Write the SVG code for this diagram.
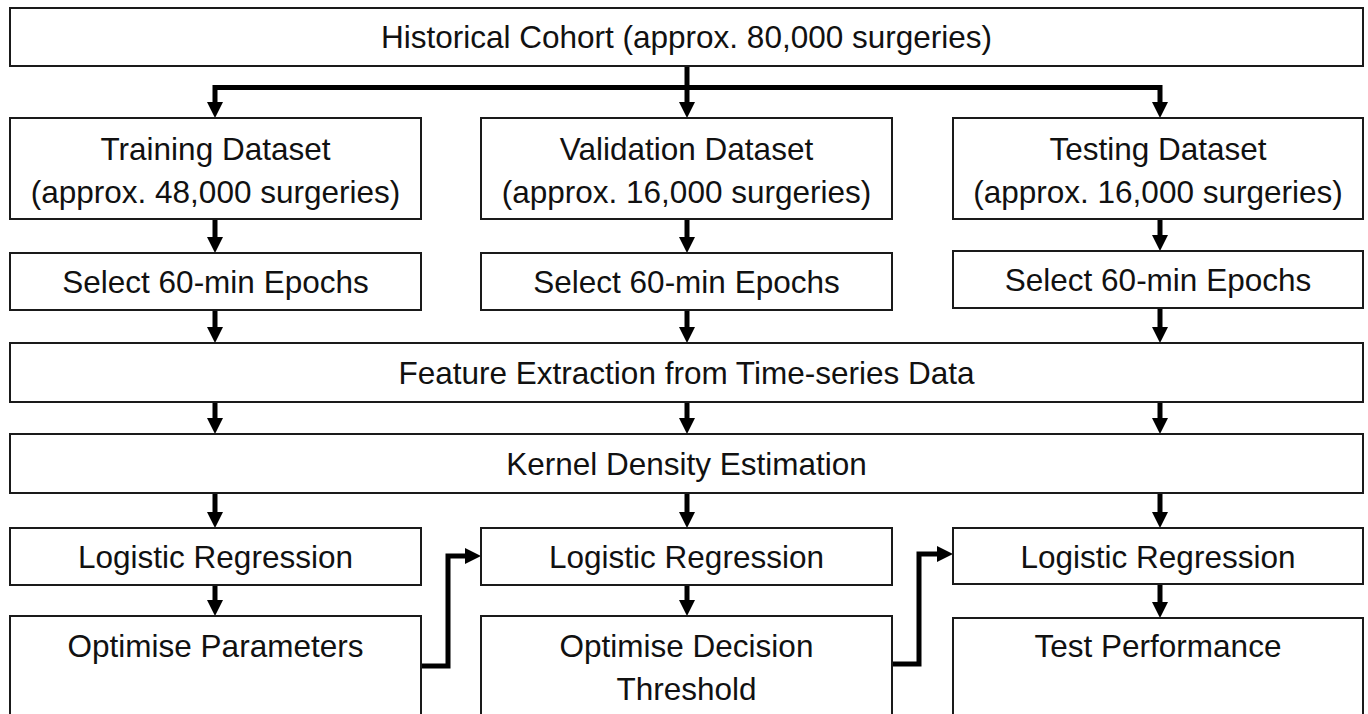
<svg xmlns="http://www.w3.org/2000/svg" width="1368" height="714" viewBox="0 0 1368 714">
<style>
.box{fill:#fff;stroke:#1a1a1a;stroke-width:2}
.t{font-family:"Liberation Sans",Arial,sans-serif;font-size:31.5px;fill:#111;text-anchor:middle}
.c{fill:none;stroke:#000;stroke-width:5;stroke-linejoin:miter;marker-end:url(#ah)}
</style>
<defs>
<marker id="ah" markerUnits="userSpaceOnUse" markerWidth="16" markerHeight="16" refX="4" refY="8" orient="auto" viewBox="0 0 16 16">
<path d="M0,0 L16,8 L0,16 Z" fill="#000"/>
</marker>
</defs>
<rect width="1368" height="714" fill="#fff"/>
<g id="connectors">
<path class="c" d="M687,66 V106"/>
<path class="c" d="M689,87.5 H215 V106"/>
<path class="c" d="M685,87.5 H1160 V106"/>
<path class="c" d="M215,219 V241"/>
<path class="c" d="M687,219 V241"/>
<path class="c" d="M1160,219 V239"/>
<path class="c" d="M215,310 V331"/>
<path class="c" d="M687,310 V331"/>
<path class="c" d="M1160,308 V331"/>
<path class="c" d="M215,402 V422"/>
<path class="c" d="M687,402 V422"/>
<path class="c" d="M1160,402 V422"/>
<path class="c" d="M215,493 V516"/>
<path class="c" d="M687,493 V516"/>
<path class="c" d="M1160,493 V516"/>
<path class="c" d="M215,585 V604"/>
<path class="c" d="M687,585 V604"/>
<path class="c" d="M1160,584 V606"/>
<path class="c" d="M421,666 H448 V556 H469"/>
<path class="c" d="M892,664 H919 V554 H941"/>
</g>
<g id="cohort"><rect class="box" x="10" y="8" width="1353" height="58"/><text class="t" x="686.5" y="48">Historical Cohort (approx. 80,000 surgeries)</text></g>
<g id="training"><rect class="box" x="10" y="118" width="411" height="101"/><text class="t" x="215.5" y="160">Training Dataset</text><text class="t" x="215.5" y="203">(approx. 48,000 surgeries)</text></g>
<g id="validation"><rect class="box" x="481" y="118" width="411" height="101"/><text class="t" x="686.5" y="160">Validation Dataset</text><text class="t" x="686.5" y="203">(approx. 16,000 surgeries)</text></g>
<g id="testing"><rect class="box" x="953" y="118" width="410" height="101"/><text class="t" x="1158" y="160">Testing Dataset</text><text class="t" x="1158" y="203">(approx. 16,000 surgeries)</text></g>
<g id="epochs-train"><rect class="box" x="10" y="253" width="411" height="57"/><text class="t" x="215.5" y="293">Select 60-min Epochs</text></g>
<g id="epochs-val"><rect class="box" x="481" y="253" width="411" height="57"/><text class="t" x="686.5" y="293">Select 60-min Epochs</text></g>
<g id="epochs-test"><rect class="box" x="953" y="251" width="410" height="57"/><text class="t" x="1158" y="291">Select 60-min Epochs</text></g>
<g id="features"><rect class="box" x="10" y="343" width="1353" height="59"/><text class="t" x="686.5" y="384">Feature Extraction from Time-series Data</text></g>
<g id="kde"><rect class="box" x="10" y="434" width="1353" height="59"/><text class="t" x="686.5" y="475">Kernel Density Estimation</text></g>
<g id="lr-train"><rect class="box" x="10" y="528" width="411" height="57"/><text class="t" x="215.5" y="568">Logistic Regression</text></g>
<g id="lr-val"><rect class="box" x="481" y="528" width="411" height="57"/><text class="t" x="686.5" y="568">Logistic Regression</text></g>
<g id="lr-test"><rect class="box" x="953" y="528" width="410" height="56"/><text class="t" x="1158" y="568">Logistic Regression</text></g>
<g id="opt-params"><rect class="box" x="10" y="616" width="411" height="110"/><text class="t" x="215.5" y="657">Optimise Parameters</text></g>
<g id="opt-threshold"><rect class="box" x="481" y="616" width="411" height="110"/><text class="t" x="686.5" y="657">Optimise Decision</text><text class="t" x="686.5" y="700">Threshold</text></g>
<g id="test-perf"><rect class="box" x="953" y="618" width="410" height="108"/><text class="t" x="1158" y="657">Test Performance</text></g>
</svg>
